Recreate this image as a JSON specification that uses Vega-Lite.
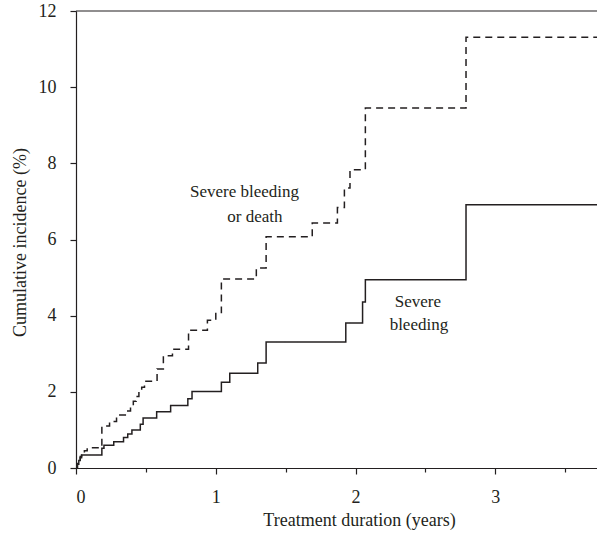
{
  "$schema": "https://vega.github.io/schema/vega-lite/v6.json",
  "width": 521,
  "height": 457,
  "autosize": {"type": "none"},
  "padding": {"left": 76, "top": 11, "right": 0, "bottom": 67},
  "background": "white",
  "config": {
    "view": {"stroke": null},
    "font": "Liberation Serif",
    "axis": {
      "grid": false,
      "domainColor": "#231f20",
      "domainWidth": 1.2,
      "tickColor": "#231f20",
      "tickWidth": 1.2,
      "labelFont": "Liberation Serif",
      "labelFontSize": 18,
      "labelColor": "#231f20",
      "labelPadding": 14,
      "titleFont": "Liberation Serif",
      "titleFontSize": 18,
      "titleFontWeight": "normal",
      "titleColor": "#231f20"
    }
  },
  "datasets": {
    "curves": [
      {"series": "Severe bleeding", "x": 0, "y": 0},
      {"series": "Severe bleeding", "x": 0.01, "y": 0.1},
      {"series": "Severe bleeding", "x": 0.02, "y": 0.2},
      {"series": "Severe bleeding", "x": 0.03, "y": 0.27},
      {"series": "Severe bleeding", "x": 0.04, "y": 0.34},
      {"series": "Severe bleeding", "x": 0.185, "y": 0.52},
      {"series": "Severe bleeding", "x": 0.2, "y": 0.6},
      {"series": "Severe bleeding", "x": 0.27, "y": 0.69},
      {"series": "Severe bleeding", "x": 0.34, "y": 0.8},
      {"series": "Severe bleeding", "x": 0.37, "y": 0.89},
      {"series": "Severe bleeding", "x": 0.4, "y": 1.0},
      {"series": "Severe bleeding", "x": 0.46, "y": 1.15},
      {"series": "Severe bleeding", "x": 0.48, "y": 1.31},
      {"series": "Severe bleeding", "x": 0.577, "y": 1.48},
      {"series": "Severe bleeding", "x": 0.677, "y": 1.64},
      {"series": "Severe bleeding", "x": 0.8, "y": 1.82},
      {"series": "Severe bleeding", "x": 0.83, "y": 2.01},
      {"series": "Severe bleeding", "x": 1.04, "y": 2.25},
      {"series": "Severe bleeding", "x": 1.1, "y": 2.49},
      {"series": "Severe bleeding", "x": 1.3, "y": 2.76},
      {"series": "Severe bleeding", "x": 1.36, "y": 3.31},
      {"series": "Severe bleeding", "x": 1.93, "y": 3.81},
      {"series": "Severe bleeding", "x": 2.05, "y": 4.36},
      {"series": "Severe bleeding", "x": 2.07, "y": 4.94},
      {"series": "Severe bleeding", "x": 2.79, "y": 6.91},
      {"series": "Severe bleeding", "x": 3.727, "y": 6.91},
      {"series": "Severe bleeding or death", "x": 0, "y": 0},
      {"series": "Severe bleeding or death", "x": 0.01, "y": 0.12},
      {"series": "Severe bleeding or death", "x": 0.02, "y": 0.22},
      {"series": "Severe bleeding or death", "x": 0.03, "y": 0.3},
      {"series": "Severe bleeding or death", "x": 0.04, "y": 0.38},
      {"series": "Severe bleeding or death", "x": 0.06, "y": 0.45},
      {"series": "Severe bleeding or death", "x": 0.08, "y": 0.53},
      {"series": "Severe bleeding or death", "x": 0.185, "y": 1.1},
      {"series": "Severe bleeding or death", "x": 0.24, "y": 1.22},
      {"series": "Severe bleeding or death", "x": 0.29, "y": 1.39},
      {"series": "Severe bleeding or death", "x": 0.37, "y": 1.5},
      {"series": "Severe bleeding or death", "x": 0.39, "y": 1.62},
      {"series": "Severe bleeding or death", "x": 0.41, "y": 1.75},
      {"series": "Severe bleeding or death", "x": 0.43, "y": 1.88},
      {"series": "Severe bleeding or death", "x": 0.45, "y": 2.0},
      {"series": "Severe bleeding or death", "x": 0.47, "y": 2.12},
      {"series": "Severe bleeding or death", "x": 0.49, "y": 2.28},
      {"series": "Severe bleeding or death", "x": 0.58, "y": 2.6},
      {"series": "Severe bleeding or death", "x": 0.625, "y": 2.95},
      {"series": "Severe bleeding or death", "x": 0.69, "y": 3.12},
      {"series": "Severe bleeding or death", "x": 0.805, "y": 3.62},
      {"series": "Severe bleeding or death", "x": 0.94, "y": 3.88},
      {"series": "Severe bleeding or death", "x": 1.0, "y": 4.08},
      {"series": "Severe bleeding or death", "x": 1.04, "y": 4.96},
      {"series": "Severe bleeding or death", "x": 1.29, "y": 5.25},
      {"series": "Severe bleeding or death", "x": 1.36, "y": 6.07},
      {"series": "Severe bleeding or death", "x": 1.69, "y": 6.43},
      {"series": "Severe bleeding or death", "x": 1.87, "y": 6.84},
      {"series": "Severe bleeding or death", "x": 1.92, "y": 7.35},
      {"series": "Severe bleeding or death", "x": 1.96, "y": 7.83},
      {"series": "Severe bleeding or death", "x": 2.07, "y": 9.45},
      {"series": "Severe bleeding or death", "x": 2.79, "y": 11.31},
      {"series": "Severe bleeding or death", "x": 3.727, "y": 11.31}
    ],
    "labels": [
      {"x": 1.205, "y": 7.26, "text": "Severe bleeding"},
      {"x": 1.28, "y": 6.6, "text": "or death"},
      {"x": 2.446, "y": 4.36, "text": "Severe"},
      {"x": 2.453, "y": 3.76, "text": "bleeding"}
    ],
    "frame": [{"y": 12}]
  },
  "layer": [
    {
      "data": {"name": "curves"},
      "mark": {"type": "line", "interpolate": "step-after", "color": "#231f20", "strokeWidth": 1.5},
      "encoding": {
        "x": {
          "field": "x",
          "type": "quantitative",
          "scale": {"domain": [0, 3.727], "nice": false, "zero": false},
          "axis": {
            "title": "Treatment duration (years)",
            "values": [0, 0.25, 0.5, 0.75, 1, 1.25, 1.5, 1.75, 2, 2.25, 2.5, 2.75, 3, 3.25, 3.5],
            "labelExpr": "datum.value % 1 === 0 ? format(datum.value, 'd') : ''",
            "labelFont": "Liberation Serif",
            "labelFontSize": 18,
            "tickSize": {"condition": {"test": "datum.value % 1 === 0", "value": 6}, "value": 4},
            "titleX": 283,
            "titleY": 52,
            "titleAlign": "center",
            "titleBaseline": "middle",
            "titleAnchor": null
          }
        },
        "y": {
          "field": "y",
          "type": "quantitative",
          "scale": {"domain": [0, 12], "nice": false},
          "axis": {
            "title": "Cumulative incidence (%)",
            "values": [0, 1, 2, 3, 4, 5, 6, 7, 8, 9, 10, 11, 12],
            "labelExpr": "datum.value % 2 === 0 ? format(datum.value, 'd') : ''",
            "labelFont": "Liberation Serif",
            "labelFontSize": 18,
            "tickSize": {"condition": {"test": "datum.value % 2 === 0", "value": 6}, "value": 4},
            "titleX": -56,
            "titleY": 231,
            "titleAngle": -90,
            "titleAlign": "center",
            "titleBaseline": "middle",
            "titleAnchor": null
          }
        },
        "strokeDash": {
          "field": "series",
          "type": "nominal",
          "scale": {"domain": ["Severe bleeding", "Severe bleeding or death"], "range": [[1, 0], [7, 5]]},
          "legend": null
        }
      }
    },
    {
      "data": {"name": "frame"},
      "mark": {"type": "rule", "color": "#231f20", "strokeWidth": 1.2},
      "encoding": {"y": {"field": "y", "type": "quantitative"}}
    },
    {
      "data": {"name": "labels"},
      "mark": {"type": "text", "font": "Liberation Serif", "fontSize": 17, "color": "#231f20", "align": "center", "baseline": "middle"},
      "encoding": {
        "x": {"field": "x", "type": "quantitative"},
        "y": {"field": "y", "type": "quantitative"},
        "text": {"field": "text"}
      }
    }
  ]
}
